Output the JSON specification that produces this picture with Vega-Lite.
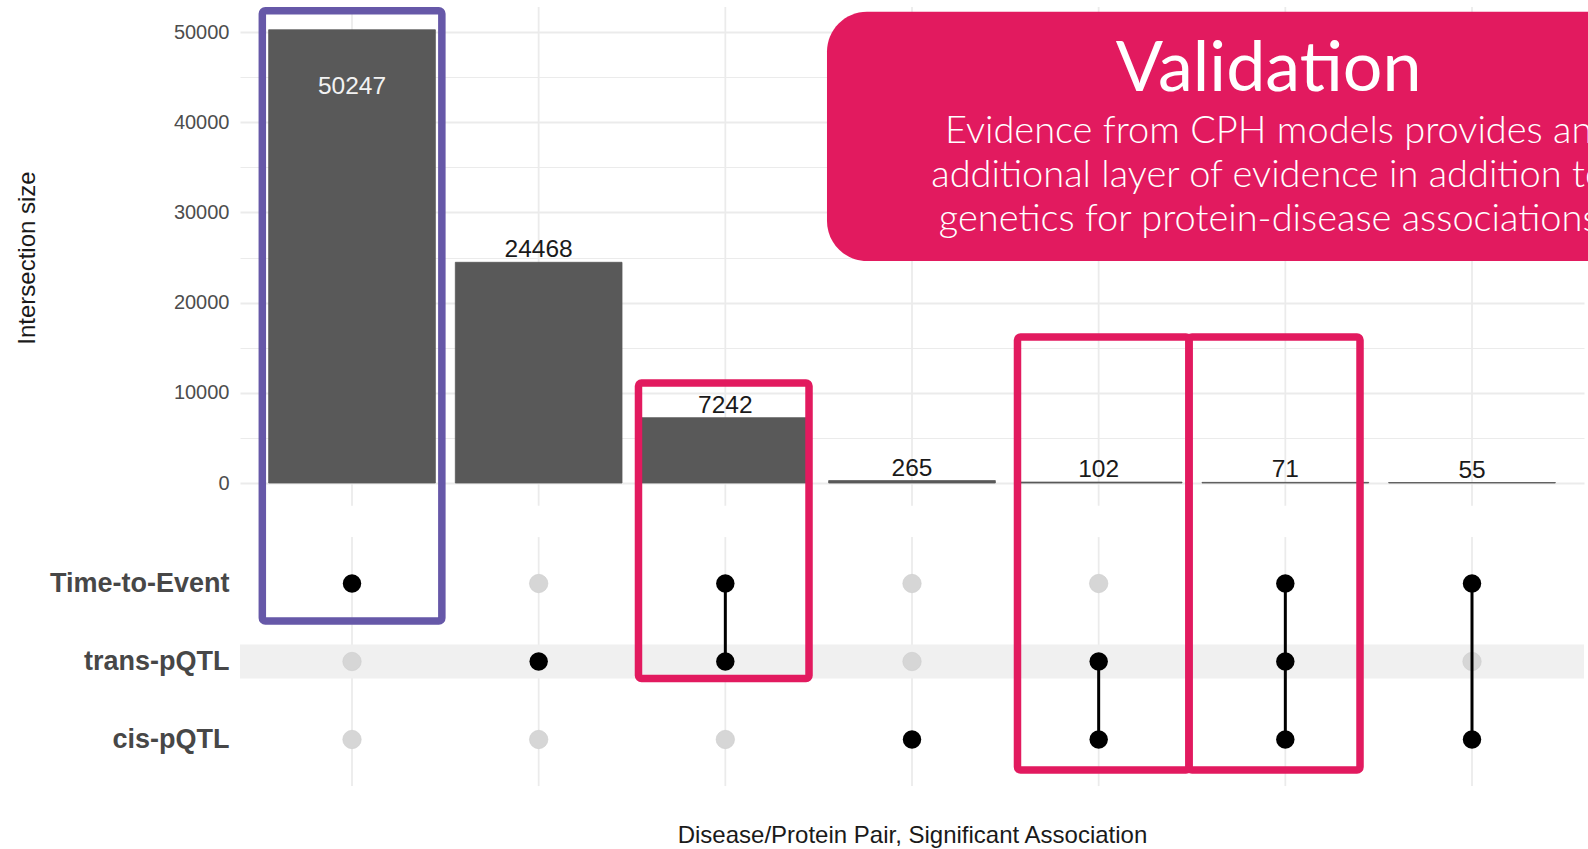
{
  "$schema": "https://vega.github.io/schema/vega-lite/v6.json",
  "width": 1344,
  "height": 800,
  "autosize": {"type": "none"},
  "padding": {"left": 240, "right": 4, "top": 0, "bottom": 49},
  "background": "white",
  "config": {
    "view": {"stroke": null},
    "font": "Liberation Sans",
    "axisX": {"labels": false, "ticks": false, "domain": false, "grid": false}
  },
  "datasets": {
    "intersections": [
      {"combo": "Time-to-Event", "size": 50247},
      {"combo": "trans-pQTL", "size": 24468},
      {"combo": "Time-to-Event + trans-pQTL", "size": 7242},
      {"combo": "cis-pQTL", "size": 265},
      {"combo": "trans-pQTL + cis-pQTL", "size": 102},
      {"combo": "Time-to-Event + trans-pQTL + cis-pQTL", "size": 71},
      {"combo": "Time-to-Event + cis-pQTL", "size": 55}
    ],
    "membership": [
      {"combo": "Time-to-Event", "set": "Time-to-Event", "member": true},
      {"combo": "Time-to-Event", "set": "trans-pQTL", "member": false},
      {"combo": "Time-to-Event", "set": "cis-pQTL", "member": false},
      {"combo": "trans-pQTL", "set": "Time-to-Event", "member": false},
      {"combo": "trans-pQTL", "set": "trans-pQTL", "member": true},
      {"combo": "trans-pQTL", "set": "cis-pQTL", "member": false},
      {"combo": "Time-to-Event + trans-pQTL", "set": "Time-to-Event", "member": true},
      {"combo": "Time-to-Event + trans-pQTL", "set": "trans-pQTL", "member": true},
      {"combo": "Time-to-Event + trans-pQTL", "set": "cis-pQTL", "member": false},
      {"combo": "cis-pQTL", "set": "Time-to-Event", "member": false},
      {"combo": "cis-pQTL", "set": "trans-pQTL", "member": false},
      {"combo": "cis-pQTL", "set": "cis-pQTL", "member": true},
      {"combo": "trans-pQTL + cis-pQTL", "set": "Time-to-Event", "member": false},
      {"combo": "trans-pQTL + cis-pQTL", "set": "trans-pQTL", "member": true},
      {"combo": "trans-pQTL + cis-pQTL", "set": "cis-pQTL", "member": true},
      {"combo": "Time-to-Event + trans-pQTL + cis-pQTL", "set": "Time-to-Event", "member": true},
      {"combo": "Time-to-Event + trans-pQTL + cis-pQTL", "set": "trans-pQTL", "member": true},
      {"combo": "Time-to-Event + trans-pQTL + cis-pQTL", "set": "cis-pQTL", "member": true},
      {"combo": "Time-to-Event + cis-pQTL", "set": "Time-to-Event", "member": true},
      {"combo": "Time-to-Event + cis-pQTL", "set": "trans-pQTL", "member": false},
      {"combo": "Time-to-Event + cis-pQTL", "set": "cis-pQTL", "member": true}
    ],
    "sets": [{"set": "trans-pQTL"}],
    "note": [{"title": "Validation"}]
  },
  "resolve": {"scale": {"y": "independent"}, "axis": {"y": "independent"}},
  "layer": [
    {
      "data": {"name": "intersections"},
      "mark": {"type": "rule", "color": "#ebebeb", "strokeWidth": 1.8},
      "encoding": {
        "x": {
          "field": "combo", "type": "nominal",
          "scale": {"domain": ["Time-to-Event", "trans-pQTL", "Time-to-Event + trans-pQTL", "cis-pQTL", "trans-pQTL + cis-pQTL", "Time-to-Event + trans-pQTL + cis-pQTL", "Time-to-Event + cis-pQTL"], "paddingInner": 0.107, "paddingOuter": 0.1535},
          "axis": {
            "title": "Disease/Protein Pair, Significant Association",
            "labels": false, "ticks": false, "domain": false, "grid": false,
            "titleFontSize": 24, "titleFontWeight": "normal", "titleColor": "#1a1a1a",
            "titleBaseline": "middle", "titleY": 35.6
          }
        },
        "y": {"datum": 52759, "type": "quantitative", "axis": null, "scale": {"domain": [0, 50000], "range": [483, 32], "nice": false, "zero": false}},
        "y2": {"datum": -2512}
      }
    },
    {
      "data": {"name": "intersections"},
      "mark": {"type": "rule", "color": "#ebebeb", "strokeWidth": 1.8},
      "encoding": {
        "x": {"field": "combo", "type": "nominal", "scale": {"domain": ["Time-to-Event", "trans-pQTL", "Time-to-Event + trans-pQTL", "cis-pQTL", "trans-pQTL + cis-pQTL", "Time-to-Event + trans-pQTL + cis-pQTL", "Time-to-Event + cis-pQTL"], "paddingInner": 0.107, "paddingOuter": 0.1535}},
        "y": {"datum": -6000, "type": "quantitative", "axis": null, "scale": {"domain": [0, 50000], "range": [483, 32], "nice": false, "zero": false}},
        "y2": {"datum": -33600}
      }
    },
    {
      "data": {"name": "intersections"},
      "mark": {"type": "bar", "color": "#595959", "stroke": "#595959", "strokeWidth": 0.8},
      "encoding": {
        "x": {"field": "combo", "type": "nominal", "scale": {"domain": ["Time-to-Event", "trans-pQTL", "Time-to-Event + trans-pQTL", "cis-pQTL", "trans-pQTL + cis-pQTL", "Time-to-Event + trans-pQTL + cis-pQTL", "Time-to-Event + cis-pQTL"], "paddingInner": 0.107, "paddingOuter": 0.1535}},
        "y": {
          "field": "size", "type": "quantitative",
          "scale": {"domain": [0, 50000], "range": [483, 32], "nice": false, "zero": false},
          "axis": {
            "orient": "left",
            "values": [0, 5000, 10000, 15000, 20000, 25000, 30000, 35000, 40000, 45000, 50000],
            "format": "d",
            "labelExpr": "datum.value % 10000 === 0 ? datum.label : ''",
            "labelFontSize": 20, "labelColor": "#4d4d4d", "labelPadding": 11, "labelOverlap": false,
            "ticks": false, "domain": false,
            "grid": true, "gridColor": "#ebebeb",
            "gridWidth": {"condition": {"test": "datum.value % 10000 === 0", "value": 2}, "value": 1},
            "title": "Intersection size",
            "titleFontSize": 24, "titleFontWeight": "normal", "titleColor": "#1a1a1a",
            "titleX": -213, "titleY": 257.5, "titleAngle": -90, "titleBaseline": "middle", "titleAlign": "center"
          }
        }
      }
    },
    {
      "data": {"name": "intersections"},
      "transform": [{"filter": "datum.size < 40000"}],
      "mark": {"type": "text", "baseline": "alphabetic", "align": "center", "dy": -5, "fontSize": 24.5, "color": "#1a1a1a"},
      "encoding": {
        "x": {"field": "combo", "type": "nominal", "scale": {"domain": ["Time-to-Event", "trans-pQTL", "Time-to-Event + trans-pQTL", "cis-pQTL", "trans-pQTL + cis-pQTL", "Time-to-Event + trans-pQTL + cis-pQTL", "Time-to-Event + cis-pQTL"], "paddingInner": 0.107, "paddingOuter": 0.1535}},
        "y": {"field": "size", "type": "quantitative", "axis": null, "scale": {"domain": [0, 50000], "range": [483, 32], "nice": false, "zero": false}},
        "text": {"field": "size", "type": "quantitative", "format": "d"}
      }
    },
    {
      "data": {"name": "intersections"},
      "transform": [{"filter": "datum.size >= 40000"}],
      "mark": {"type": "text", "baseline": "alphabetic", "align": "center", "dy": 64, "fontSize": 24.5, "color": "#f2f2f2"},
      "encoding": {
        "x": {"field": "combo", "type": "nominal", "scale": {"domain": ["Time-to-Event", "trans-pQTL", "Time-to-Event + trans-pQTL", "cis-pQTL", "trans-pQTL + cis-pQTL", "Time-to-Event + trans-pQTL + cis-pQTL", "Time-to-Event + cis-pQTL"], "paddingInner": 0.107, "paddingOuter": 0.1535}},
        "y": {"field": "size", "type": "quantitative", "axis": null, "scale": {"domain": [0, 50000], "range": [483, 32], "nice": false, "zero": false}},
        "text": {"field": "size", "type": "quantitative", "format": "d"}
      }
    },
    {
      "data": {"name": "sets"},
      "mark": {"type": "rule", "color": "#f0f0f0", "strokeWidth": 34, "strokeCap": "butt"},
      "encoding": {
        "x": {"value": 0},
        "x2": {"value": "width"},
        "y": {"field": "set", "type": "nominal", "axis": null, "scale": {"type": "point", "domain": ["Time-to-Event", "trans-pQTL", "cis-pQTL"], "range": [583.5, 739.5], "padding": 0}}
      }
    },
    {
      "data": {"name": "membership"},
      "transform": [{"filter": "!datum.member"}],
      "mark": {"type": "circle", "size": 340, "opacity": 1, "color": "#d6d6d6", "stroke": "#cccccc", "strokeWidth": 0.6},
      "encoding": {
        "x": {"field": "combo", "type": "nominal", "scale": {"domain": ["Time-to-Event", "trans-pQTL", "Time-to-Event + trans-pQTL", "cis-pQTL", "trans-pQTL + cis-pQTL", "Time-to-Event + trans-pQTL + cis-pQTL", "Time-to-Event + cis-pQTL"], "paddingInner": 0.107, "paddingOuter": 0.1535}},
        "y": {
          "field": "set", "type": "nominal",
          "scale": {"type": "point", "domain": ["Time-to-Event", "trans-pQTL", "cis-pQTL"], "range": [583.5, 739.5], "padding": 0},
          "axis": {
            "orient": "left", "title": null,
            "labelFontSize": 27, "labelFontWeight": "bold", "labelColor": "#474747", "labelPadding": 11,
            "ticks": false, "domain": false, "grid": false
          }
        }
      }
    },
    {
      "data": {"name": "membership"},
      "transform": [{"filter": "datum.member"}],
      "mark": {"type": "line", "orient": "vertical", "color": "black", "strokeWidth": 3},
      "encoding": {
        "x": {"field": "combo", "type": "nominal", "scale": {"domain": ["Time-to-Event", "trans-pQTL", "Time-to-Event + trans-pQTL", "cis-pQTL", "trans-pQTL + cis-pQTL", "Time-to-Event + trans-pQTL + cis-pQTL", "Time-to-Event + cis-pQTL"], "paddingInner": 0.107, "paddingOuter": 0.1535}},
        "y": {"field": "set", "type": "nominal", "axis": null, "scale": {"type": "point", "domain": ["Time-to-Event", "trans-pQTL", "cis-pQTL"], "range": [583.5, 739.5], "padding": 0}},
        "detail": {"field": "combo", "type": "nominal"}
      }
    },
    {
      "data": {"name": "membership"},
      "transform": [{"filter": "datum.member"}],
      "mark": {"type": "circle", "size": 340, "opacity": 1, "color": "black"},
      "encoding": {
        "x": {"field": "combo", "type": "nominal", "scale": {"domain": ["Time-to-Event", "trans-pQTL", "Time-to-Event + trans-pQTL", "cis-pQTL", "trans-pQTL + cis-pQTL", "Time-to-Event + trans-pQTL + cis-pQTL", "Time-to-Event + cis-pQTL"], "paddingInner": 0.107, "paddingOuter": 0.1535}},
        "y": {"field": "set", "type": "nominal", "axis": null, "scale": {"type": "point", "domain": ["Time-to-Event", "trans-pQTL", "cis-pQTL"], "range": [583.5, 739.5], "padding": 0}}
      }
    },
    {
      "data": {"name": "note"},
      "mark": {"type": "rect", "filled": false, "stroke": "#6658A8", "strokeWidth": 7.5, "cornerRadius": 3},
      "encoding": {
        "x": {"datum": "Time-to-Event", "bandPosition": -0.038, "scale": {"domain": ["Time-to-Event", "trans-pQTL", "Time-to-Event + trans-pQTL", "cis-pQTL", "trans-pQTL + cis-pQTL", "Time-to-Event + trans-pQTL + cis-pQTL", "Time-to-Event + cis-pQTL"], "paddingInner": 0.107, "paddingOuter": 0.1535}},
        "x2": {"datum": "Time-to-Event", "bandPosition": 1.039},
        "y": {"datum": 52350, "type": "quantitative", "axis": null, "scale": {"domain": [0, 50000], "range": [483, 32], "nice": false, "zero": false}},
        "y2": {"datum": -15300}
      }
    },
    {
      "data": {"name": "note"},
      "mark": {"type": "rect", "filled": false, "stroke": "#E21A5F", "strokeWidth": 7.5, "cornerRadius": 3},
      "encoding": {
        "x": {"datum": "Time-to-Event + trans-pQTL", "bandPosition": -0.021, "scale": {"domain": ["Time-to-Event", "trans-pQTL", "Time-to-Event + trans-pQTL", "cis-pQTL", "trans-pQTL + cis-pQTL", "Time-to-Event + trans-pQTL + cis-pQTL", "Time-to-Event + cis-pQTL"], "paddingInner": 0.107, "paddingOuter": 0.1535}},
        "x2": {"datum": "Time-to-Event + trans-pQTL", "bandPosition": 1.002},
        "y": {"datum": 11086, "type": "quantitative", "axis": null, "scale": {"domain": [0, 50000], "range": [483, 32], "nice": false, "zero": false}},
        "y2": {"datum": -21674}
      }
    },
    {
      "data": {"name": "note"},
      "mark": {"type": "rect", "filled": false, "stroke": "#E21A5F", "strokeWidth": 7.5, "cornerRadius": 3},
      "encoding": {
        "x": {"datum": "trans-pQTL + cis-pQTL", "bandPosition": 0.013, "scale": {"domain": ["Time-to-Event", "trans-pQTL", "Time-to-Event + trans-pQTL", "cis-pQTL", "trans-pQTL + cis-pQTL", "Time-to-Event + trans-pQTL + cis-pQTL", "Time-to-Event + cis-pQTL"], "paddingInner": 0.107, "paddingOuter": 0.1535}},
        "x2": {"datum": "Time-to-Event + trans-pQTL + cis-pQTL", "bandPosition": -0.078},
        "y": {"datum": 16186, "type": "quantitative", "axis": null, "scale": {"domain": [0, 50000], "range": [483, 32], "nice": false, "zero": false}},
        "y2": {"datum": -31818}
      }
    },
    {
      "data": {"name": "note"},
      "mark": {"type": "rect", "filled": false, "stroke": "#E21A5F", "strokeWidth": 7.5, "cornerRadius": 3},
      "encoding": {
        "x": {"datum": "Time-to-Event + trans-pQTL + cis-pQTL", "bandPosition": -0.078, "scale": {"domain": ["Time-to-Event", "trans-pQTL", "Time-to-Event + trans-pQTL", "cis-pQTL", "trans-pQTL + cis-pQTL", "Time-to-Event + trans-pQTL + cis-pQTL", "Time-to-Event + cis-pQTL"], "paddingInner": 0.107, "paddingOuter": 0.1535}},
        "x2": {"datum": "Time-to-Event + trans-pQTL + cis-pQTL", "bandPosition": 0.948},
        "y": {"datum": 16186, "type": "quantitative", "axis": null, "scale": {"domain": [0, 50000], "range": [483, 32], "nice": false, "zero": false}},
        "y2": {"datum": -31818}
      }
    },
    {
      "data": {"name": "note"},
      "mark": {"type": "rect", "fill": "#E21A5F", "cornerRadius": 40, "x2Offset": 60},
      "encoding": {
        "x": {"datum": "cis-pQTL", "bandPosition": -0.01, "scale": {"domain": ["Time-to-Event", "trans-pQTL", "Time-to-Event + trans-pQTL", "cis-pQTL", "trans-pQTL + cis-pQTL", "Time-to-Event + trans-pQTL + cis-pQTL", "Time-to-Event + cis-pQTL"], "paddingInner": 0.107, "paddingOuter": 0.1535}},
        "x2": {"value": "width"},
        "y": {"datum": 52251, "type": "quantitative", "axis": null, "scale": {"domain": [0, 50000], "range": [483, 32], "nice": false, "zero": false}},
        "y2": {"datum": 24612}
      }
    },
    {
      "data": {"name": "note"},
      "mark": {"type": "text", "font": "Lato", "fontSize": 70, "letterSpacing": 1, "color": "white", "align": "center", "baseline": "alphabetic"},
      "encoding": {
        "x": {"datum": "Time-to-Event + trans-pQTL + cis-pQTL", "bandPosition": 0.4, "scale": {"domain": ["Time-to-Event", "trans-pQTL", "Time-to-Event + trans-pQTL", "cis-pQTL", "trans-pQTL + cis-pQTL", "Time-to-Event + trans-pQTL + cis-pQTL", "Time-to-Event + cis-pQTL"], "paddingInner": 0.107, "paddingOuter": 0.1535}},
        "y": {"datum": 43459, "type": "quantitative", "axis": null, "scale": {"domain": [0, 50000], "range": [483, 32], "nice": false, "zero": false}},
        "text": {"field": "title", "type": "nominal"}
      }
    },
    {
      "data": {"name": "note"},
      "mark": {
        "type": "text",
        "text": ["Evidence from CPH models provides an", "additional layer of evidence in addition to", "genetics for protein-disease associations"],
        "font": "Lato", "fontWeight": 300, "fontSize": 38, "letterSpacing": 1.5, "lineHeight": 44, "color": "white", "align": "center", "baseline": "alphabetic"
      },
      "encoding": {
        "x": {"datum": "Time-to-Event + trans-pQTL + cis-pQTL", "bandPosition": 0.4, "scale": {"domain": ["Time-to-Event", "trans-pQTL", "Time-to-Event + trans-pQTL", "cis-pQTL", "trans-pQTL + cis-pQTL", "Time-to-Event + trans-pQTL + cis-pQTL", "Time-to-Event + cis-pQTL"], "paddingInner": 0.107, "paddingOuter": 0.1535}},
        "y": {"datum": 37716, "type": "quantitative", "axis": null, "scale": {"domain": [0, 50000], "range": [483, 32], "nice": false, "zero": false}}
      }
    }
  ]
}
